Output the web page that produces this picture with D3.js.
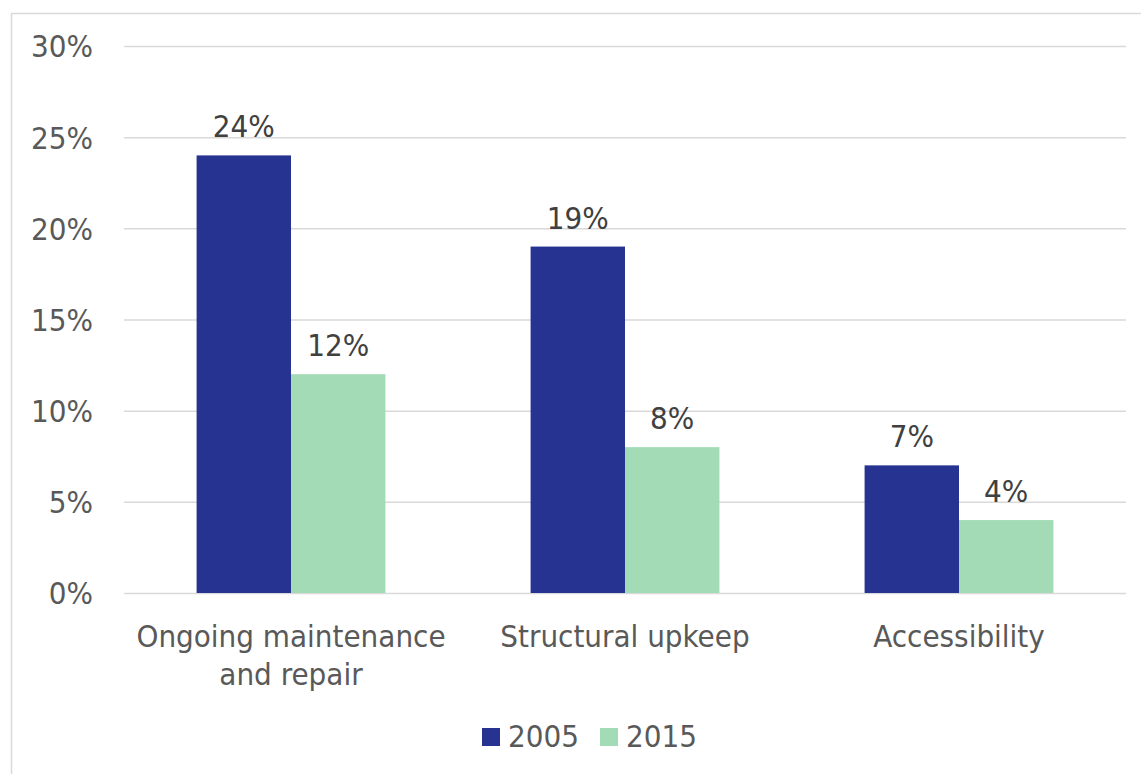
<!DOCTYPE html>
<html>
<head>
<meta charset="utf-8">
<script src="https://cdn.jsdelivr.net/npm/d3@7"></script>
<style>
  html, body { margin: 0; padding: 0; background: #fff; }
  svg { display: block; }
  text { font-family: "DejaVu Sans Condensed", "DejaVu Sans", sans-serif; font-stretch: condensed; }
</style>
</head>
<body>
<svg id="chart" width="1141" height="774"></svg>
<script>
// Share of households reporting each problem type
const categories = [["Ongoing maintenance", "and repair"], ["Structural upkeep"], ["Accessibility"]];
const seriesNames = ["2005", "2015"];
const values2005 = [24, 19, 7];
const values2015 = [12, 8, 4];
const yTicks = [0, 5, 10, 15, 20, 25, 30];
const colors = ["#263391", "#a3dbb6"];

const svg = d3.select("#chart");
const W = 1141, H = 774;
const plot = { left: 124, right: 1126, top: 46, bottom: 593 };

// outer frame
svg.append("rect")
  .attr("x", 11.5).attr("y", 13.5)
  .attr("width", W + 20).attr("height", H + 20)
  .attr("fill", "#fff").attr("stroke", "#d9d9d9").attr("stroke-width", 1.5);

const keys = categories.map(c => c.join(" "));
const x = d3.scaleBand().domain(keys).range([plot.left, plot.right]).paddingInner(0).paddingOuter(0);
const xs = d3.scaleBand().domain(seriesNames).range([0, x.bandwidth()]).paddingInner(0).paddingOuter(0.7689);
const y = d3.scaleLinear().domain([0, 30]).range([plot.bottom, plot.top]);

// gridlines
const yAxis = d3.axisLeft(y).tickValues(yTicks).tickSize(-(plot.right - plot.left)).tickFormat(d => d + "%").tickPadding(31);
const gy = svg.append("g").attr("transform", `translate(${plot.left},0)`).call(yAxis);
gy.select(".domain").remove();
gy.selectAll(".tick line").attr("stroke", "#d9d9d9").attr("stroke-width", 1.5);
gy.selectAll(".tick text")
  .attr("fill", "#595959").attr("font-size", 31).attr("dy", "0.35em");

// bars
const data = keys.map((k, i) => ({ key: k, vals: [values2005[i], values2015[i]] }));
const groups = svg.append("g").selectAll("g").data(data).join("g")
  .attr("transform", d => `translate(${x(d.key)},0)`);

groups.selectAll("rect").data(d => d.vals.map((v, j) => ({ s: seriesNames[j], v, j })))
  .join("rect")
  .attr("x", d => xs(d.s))
  .attr("y", d => y(d.v))
  .attr("width", xs.bandwidth())
  .attr("height", d => y(0) - y(d.v))
  .attr("fill", d => colors[d.j]);

groups.selectAll("text.val").data(d => d.vals.map((v, j) => ({ s: seriesNames[j], v, j })))
  .join("text").attr("class", "val")
  .attr("x", d => xs(d.s) + xs.bandwidth() / 2)
  .attr("y", d => y(d.v) - 18)
  .attr("text-anchor", "middle")
  .attr("fill", "#404040").attr("font-size", 31)
  .text(d => d.v + "%");

// category labels
const catG = svg.append("g");
categories.forEach((lines, i) => {
  const t = catG.append("text")
    .attr("x", x(keys[i]) + x.bandwidth() / 2)
    .attr("y", 647)
    .attr("text-anchor", "middle")
    .attr("fill", "#595959").attr("font-size", 31);
  lines.forEach((ln, k) => {
    t.append("tspan").attr("x", x(keys[i]) + x.bandwidth() / 2).attr("dy", k === 0 ? 0 : 38).text(ln);
  });
});

// legend
const legend = svg.append("g");
const legX = [482, 600];
seriesNames.forEach((s, i) => {
  legend.append("rect").attr("x", legX[i]).attr("y", 728).attr("width", 18).attr("height", 18).attr("fill", colors[i]);
  legend.append("text").attr("x", legX[i] + 26).attr("y", 747)
    .attr("fill", "#595959").attr("font-size", 31).text(s);
});
</script>
</body>
</html>
